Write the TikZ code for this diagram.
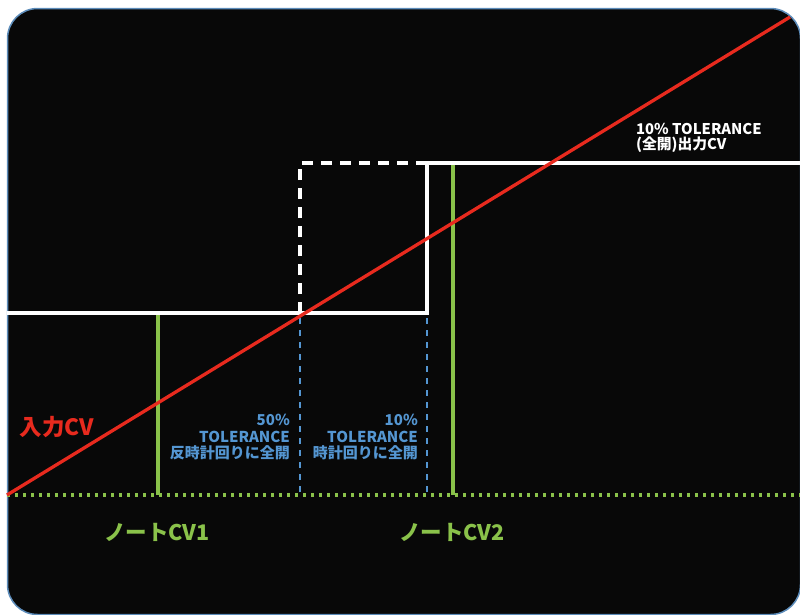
\documentclass[tikz,border=0pt]{standalone}
\usepackage{fontspec}
\setmainfont{Noto Sans CJK JP}
\definecolor{cvRed}{RGB}{232,42,30}
\definecolor{noteGreen}{RGB}{138,194,74}
\definecolor{tolBlue}{RGB}{84,150,210}
\definecolor{frameBlue}{RGB}{92,140,186}
\definecolor{bgBlack}{RGB}{8,8,8}

\begin{document}
\begin{tikzpicture}[x=1pt,y=-1pt,
  outline/.style={line width=3.2pt, white},
  noteline/.style={line width=3.3pt, noteGreen},
  tolline/.style={line width=1.8pt, tolBlue, dash pattern=on 6pt off 6pt},
  tollabel/.style={tolBlue, align=right, anchor=north east, inner sep=0pt,
    font=\bfseries\fontsize{15}{16.5}\selectfont}]
\useasboundingbox (0,0) rectangle (800,614);
% Frame
\draw[line width=1.5pt, frameBlue, fill=bgBlack, rounded corners=30pt] (7.5,8.5) rectangle (800.5,614.5);
% points
\coordinate (lowL) at (7,313);
\coordinate (lowR) at (427,313);
\coordinate (highL) at (427,163);
\coordinate (highR) at (800,163);
\coordinate (dashLow) at (300,313);
\coordinate (dashHigh) at (300,163);
\coordinate (baseL) at (7,495);
\coordinate (baseR) at (800,495);
%BASE
\draw[line width=3.3pt, noteGreen, dash pattern=on 3.3pt off 4.7pt] (baseL)--(baseR);
%TOLERANCE
\draw[tolline] (300,318)--(300,495);
\draw[tolline] (427,318)--(427,495);
%NOTES
\draw[noteline] (158,313)--(158,495);
\draw[noteline] (453,163)--(453,495);
%OUTPUT
\draw[outline] (lowL)--(lowR)--(highL)--(highR);
\draw[outline, dash pattern=on 11pt off 8pt] (dashLow)--(dashHigh)--(highL);
%INPUT
\draw[line width=3.3pt, cvRed] (baseL)--(790,17);
% Labels
\node[white, align=left, anchor=north west, inner sep=0pt,
  font=\bfseries\fontsize{14.8}{15.5}\selectfont] (outLabel) at (636,123) {10\% TOLERANCE\\(全開)出力CV};
\node[tollabel] (tolFifty) at (290,414) {50\%\\TOLERANCE\\反時計回りに全開};
\node[tollabel] (tolTen) at (418,414) {10\%\\TOLERANCE\\時計回りに全開};
\node[cvRed, font=\bfseries\fontsize{22.5}{24}\selectfont] (inLabel) at (57,427) {入力CV};
\node[noteGreen, font=\bfseries\fontsize{21.5}{24}\selectfont] (noteOne) at (157,532) {ノートCV1};
\node[noteGreen, font=\bfseries\fontsize{21.5}{24}\selectfont] (noteTwo) at (452,532) {ノートCV2};
\end{tikzpicture}
\end{document}
